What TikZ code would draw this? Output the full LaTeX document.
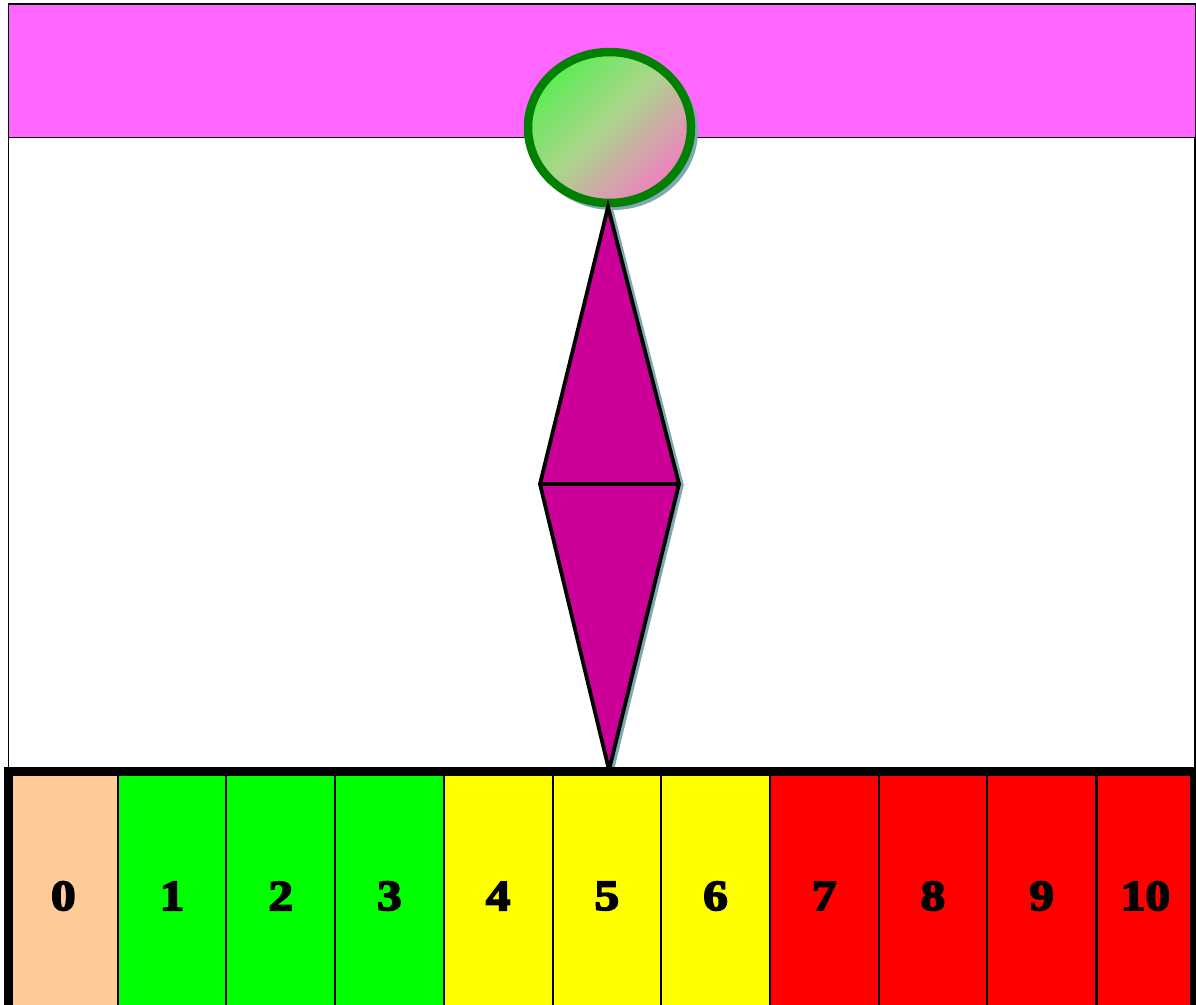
\documentclass[tikz,border=0pt]{standalone}
\usepackage{fontspec}
\usetikzlibrary{shapes.geometric}
\newfontfamily\numfont{Liberation Serif}[UprightFont={* Bold},FakeBold=4,FakeStretch=1.15]
\definecolor{bandmag}{HTML}{FF66FF}
\definecolor{diamag}{HTML}{CC0099}
\definecolor{ringgreen}{HTML}{008000}
\definecolor{ballgreen}{HTML}{40F440}
\definecolor{ballmid}{HTML}{AAD68C}
\definecolor{ballpink}{HTML}{FA74C6}
\definecolor{shadowteal}{HTML}{7FA9B2}
\definecolor{peach}{HTML}{FFCC99}
\definecolor{cgreen}{HTML}{00FF00}
\definecolor{cyellow}{HTML}{FFFF00}
\definecolor{cred}{HTML}{FF0000}
\pgfdeclareverticalshading{ballshade}{100bp}{color(0bp)=(ballpink); color(22bp)=(ballpink); color(52bp)=(ballmid); color(83bp)=(ballgreen); color(100bp)=(ballgreen)}
\tikzset{
  cellbox/.style={draw=black, line width=2pt, inner sep=0pt, minimum height=248.5pt,
    font=\numfont\fontsize{43}{43}\selectfont, text=black},
}
\begin{document}
\begin{tikzpicture}[x=1pt,y=-1pt]
\useasboundingbox (0,0) rectangle (1196,1004);
\clip (0,0) rectangle (1196,1004);
\fill[white] (0,0) rectangle (1196,1004);
% outer thin frame
\draw[line width=1.5pt] (8.5,4) rectangle (1195,771);
% magenta band
\draw[line width=1pt, fill=bandmag] (8.5,4) rectangle (1195,137);
% ellipse shadow
\fill[shadowteal] (613,131) ellipse [x radius=85, y radius=79];
% ellipse
\node[ellipse, draw=ringgreen, line width=8.5pt, shading=ballshade,
  shading angle=45, minimum width=163pt, minimum height=151pt, inner sep=0pt] (ball) at (609.5,127.5) {};
% diamond
\coordinate (dt) at (608,207);
\coordinate (dl) at (540,484);
\coordinate (dr) at (679,484);
\coordinate (db) at (609,770);
\draw[shadowteal, line width=3.5pt, line join=miter] ([shift={(3,1)}]dt) -- ([shift={(3,1)}]dr) -- ([shift={(3,1)}]db);
\draw[line width=3.8pt, fill=diamag, line join=miter] (dt) -- (dr) -- (db) -- (dl) -- cycle;
\draw[line width=3.8pt] (dl) -- (dr);
% scale cells
\node[cellbox, fill=peach,   minimum width=108.7pt] (c0) at (63.35,896) {0};
\node[cellbox, fill=cgreen,  minimum width=108.7pt] (c1) at (172.05,896) {1};
\node[cellbox, fill=cgreen,  minimum width=108.7pt] (c2) at (280.75,896) {2};
\node[cellbox, fill=cgreen,  minimum width=108.7pt] (c3) at (389.45,896) {3};
\node[cellbox, fill=cyellow, minimum width=108.7pt] (c4) at (498.15,896) {4};
\node[cellbox, fill=cyellow, minimum width=108.7pt] (c5) at (606.85,896) {5};
\node[cellbox, fill=cyellow, minimum width=108.7pt] (c6) at (715.55,896) {6};
\node[cellbox, fill=cred,    minimum width=108.7pt] (c7) at (824.25,896) {7};
\node[cellbox, fill=cred,    minimum width=108.7pt] (c8) at (932.95,896) {8};
\node[cellbox, fill=cred,    minimum width=108.7pt] (c9) at (1041.65,896) {9};
\node[cellbox, fill=cred,    minimum width=97pt] (c10) at (1145.5,896) {10};
% thick frame of scale
\draw[line width=9pt] (8.5,771.5) rectangle (1194,1020.5);
\end{tikzpicture}
\end{document}
